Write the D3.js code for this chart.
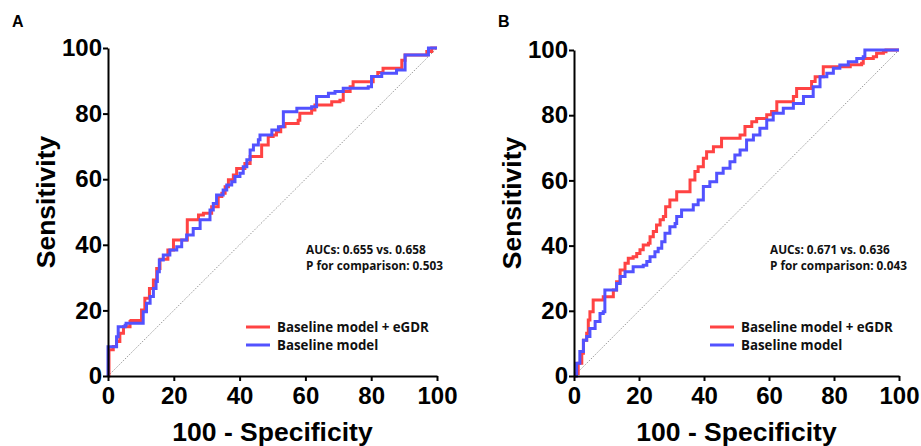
<!DOCTYPE html>
<html>
<head>
<meta charset="utf-8">
<script src="https://cdn.jsdelivr.net/npm/d3@7"></script>
<style>
  html, body { margin: 0; padding: 0; background: #fff; }
  svg { display: block; }
</style>
</head>
<body>
<svg id="chart" width="921" height="446"></svg>
<script>
// ---- Data (100 - Specificity, Sensitivity) ----
const ticks = [0, 20, 40, 60, 80, 100];
const seriesNames = ["Baseline model + eGDR", "Baseline model"];
const panelLabels = ["A", "B"];
const aucTexts = ["AUCs: 0.655 vs. 0.658", "AUCs: 0.671 vs. 0.636"];
const pTexts = ["P for comparison: 0.503", "P for comparison: 0.043"];

const redA = [[0,0],[0.3,8],[1.6,9],[2.6,10.5],[3.6,13],[4.7,15],[6.7,16.6],[7,16.9],[9.7,16.9],[10.2,20.1],[11.2,23.7],[12.6,26.7],[13.8,29.3],[14.8,32.8],[15.8,35.6],[17.8,35.6],[18.2,38.4],[19.9,41.5],[22.9,41.5],[24.1,47.6],[26.9,47.6],[27.5,49.1],[29,49.6],[31,49.6],[31.5,51.6],[33,51.6],[33.5,54.7],[34.6,55.7],[35.6,57.7],[36.6,59.8],[38.1,61.3],[39.1,63.3],[41.1,63.3],[41.6,64.8],[43.2,66.9],[46.2,66.9],[46.7,70.4],[48.2,70.4],[48.7,73],[50.2,73.5],[51.2,74.5],[52.5,76],[53.8,77],[57.8,78],[58.3,80.1],[61.9,81.1],[62.9,82.6],[67,82.6],[68,83.6],[70.5,84.1],[71.5,86.7],[73.6,88.2],[74.5,89.7],[79.6,89.7],[80.6,91.3],[82,92.5],[83.6,93.8],[87.7,93.8],[89.3,96.3],[90.3,97.9],[95.8,97.9],[96.9,98.9],[98.4,100],[100,100]];
const blueA = [[0,0],[0,8.9],[2.1,8.9],[2.6,12],[3.1,15],[5.2,15.5],[5.5,16.1],[10.2,16.1],[10.7,19.6],[11.7,22.2],[12.8,24.2],[13.8,26.7],[14.6,28.8],[15,31.8],[15.6,35.4],[16.8,36.9],[18.8,38.4],[20.9,39.4],[22.4,41.5],[23.9,43],[25.9,45],[28,47.6],[30.5,47.6],[31,50.6],[32,52.6],[33,55.2],[35,56.7],[36.1,58.2],[37.6,59.2],[38.6,60.8],[40.1,61.8],[41.1,63.8],[42.2,65.9],[43.2,68.9],[44.2,70.4],[45.7,72],[46.2,73.5],[49.2,73.5],[49.8,75],[51.8,76],[53.3,80.6],[57.4,81.6],[61.9,82.1],[63.4,85.2],[67,86.2],[69,86.7],[71.5,87.7],[79.1,88.2],[80.1,91.3],[83.2,92.3],[87.7,93.3],[90.3,97.9],[96.4,97.9],[97.4,100],[100,100]];
const redB = [[0,0],[0.5,0.8],[1.3,3.9],[2.4,7],[2.9,11],[3.9,13.1],[4.4,17.2],[4.9,19.7],[5.9,23.3],[8.5,23.3],[9,24.3],[11.6,24.3],[12.1,26.4],[13.1,28.9],[14.2,32.5],[15.7,34.6],[16.7,36.1],[18.2,36.6],[19.3,37.6],[20.3,38.7],[21.3,40.2],[22.9,40.7],[23.4,42.7],[24.4,44.3],[25.4,46.3],[26.5,47.9],[27.5,48.9],[28.2,51.9],[29.5,54],[31.6,56.5],[34.7,56.5],[35.7,60.1],[37.2,62.7],[38.2,64.2],[39.8,66.8],[40.8,68.8],[42.9,70.3],[45.4,72.9],[50.1,72.9],[51.1,73.9],[52.6,76.5],[54.7,78],[56.2,79],[59.3,80.1],[60.8,81.1],[62.4,84.1],[66.5,84.1],[67.5,85.7],[68.5,88.2],[72.1,88.2],[73.1,90.3],[74.2,91.8],[76.7,94.9],[82.9,94.9],[85,95.5],[88.5,95.9],[89,97.4],[92.1,97.9],[93.1,99],[95.2,99.5],[96,100],[100,100]];
const blueB = [[0,0],[0.8,3.9],[1.8,7.5],[2.9,11],[3.9,12.1],[4.9,14.6],[6.5,16.7],[8,19.2],[9,19.7],[9.5,26.4],[12.1,26.4],[13.1,28.4],[14.2,30.5],[15.7,32],[17.5,32],[18.2,33.5],[21.3,34],[22.4,35.1],[23.4,36.6],[24.9,38.1],[25.9,39.2],[27,41.2],[28,43.8],[29.5,45.8],[31.1,46.8],[31.6,48.9],[33.1,50.9],[35.7,50.9],[36.7,52.5],[38.2,54],[39.8,58.1],[41.8,59.6],[43.9,62.2],[45.9,63.7],[48,65.7],[49.5,67.8],[51.1,69.3],[53.1,72.4],[55.2,73.9],[57.2,76],[59.3,78.5],[61.3,80.6],[64.4,82.1],[67.5,83.6],[70.6,85.7],[73.6,88.7],[75.7,91.8],[77.8,92.9],[79.8,94.4],[81.8,95.4],[84.4,96.4],[87,97.4],[89,97.9],[89.5,100],[100,100]];

const colors = ["#ff4343", "#5252ff"];

// ---- Layout ----
const panels = [
  { label: panelLabels[0], red: redA, blue: blueA, auc: aucTexts[0], p: pTexts[0],
    x0: 108, x1: 437, y0: 376, y1: 48, labelX: 12, yTitleX: 55, annX: 306, legX: 246 },
  { label: panelLabels[1], red: redB, blue: blueB, auc: aucTexts[1], p: pTexts[1],
    x0: 574, x1: 899, y0: 376, y1: 50, labelX: 498, yTitleX: 521, annX: 770, legX: 710 }
];

const svg = d3.select("#chart");
const boldFont = "'Liberation Sans', Arial, sans-serif";
const textFont = "'Open Sans', 'Noto Sans', sans-serif";

panels.forEach(p => {
  const x = d3.scaleLinear().domain([0, 100]).range([p.x0, p.x1]);
  const y = d3.scaleLinear().domain([0, 100]).range([p.y0, p.y1]);
  const g = svg.append("g");

  // chance diagonal
  g.append("line")
    .attr("x1", x(0)).attr("y1", y(0)).attr("x2", x(100)).attr("y2", y(100))
    .attr("stroke", "#9a9a9a").attr("stroke-width", 1).attr("stroke-dasharray", "1.5,1.5");

  // ROC step curves
  const line = d3.line().x(d => x(d[0])).y(d => y(d[1])).curve(d3.curveStepAfter);
  [p.red, p.blue].forEach((data, i) => {
    g.append("path").datum(data)
      .attr("d", line)
      .attr("fill", "none")
      .attr("stroke", colors[i])
      .attr("stroke-width", 3)
      .attr("stroke-linejoin", "miter");
  });

  // axes
  const xAxis = d3.axisBottom(x).tickValues(ticks).tickSize(5).tickSizeOuter(0).tickPadding(6);
  const yAxis = d3.axisLeft(y).tickValues(ticks).tickSize(5).tickSizeOuter(0).tickPadding(1);
  const gx = g.append("g").attr("transform", `translate(0,${p.y0})`).call(xAxis);
  const gy = g.append("g").attr("transform", `translate(${p.x0},0)`).call(yAxis);
  [gx, gy].forEach(ax => {
    ax.select(".domain").attr("stroke", "#000").attr("stroke-width", 2);
    ax.selectAll(".tick line").attr("stroke", "#000").attr("stroke-width", 2);
    ax.selectAll(".tick text")
      .attr("fill", "#000")
      .style("font-family", boldFont)
      .style("font-weight", "bold")
      .style("font-size", "24px");
  });

  // axis titles
  g.append("text")
    .attr("x", (p.x0 + p.x1) / 2).attr("y", 441)
    .attr("text-anchor", "middle")
    .style("font-family", boldFont).style("font-weight", "bold").style("font-size", "26.5px")
    .text("100 - Specificity");
  g.append("text")
    .attr("transform", `translate(${p.yTitleX},${(p.y0 + p.y1) / 2 - 10}) rotate(-90)`)
    .attr("text-anchor", "middle")
    .style("font-family", boldFont).style("font-weight", "bold").style("font-size", "26.5px")
    .text("Sensitivity");

  // panel label
  g.append("text")
    .attr("x", p.labelX).attr("y", 27)
    .style("font-family", boldFont).style("font-weight", "bold").style("font-size", "16px")
    .text(p.label);

  // AUC annotation
  [p.auc, p.p].forEach((t, i) => {
    g.append("text")
      .attr("x", p.annX).attr("y", 254 + i * 16)
      .style("font-family", textFont).style("font-weight", 700).style("font-size", "11.8px")
      .attr("fill", "#111")
      .text(t);
  });

  // legend
  seriesNames.forEach((name, i) => {
    const ly = 327 + i * 18;
    g.append("line")
      .attr("x1", p.legX).attr("x2", p.legX + 24).attr("y1", ly).attr("y2", ly)
      .attr("stroke", colors[i]).attr("stroke-width", 3);
    g.append("text")
      .attr("x", p.legX + 31).attr("y", ly + 5)
      .style("font-family", textFont).style("font-weight", 700).style("font-size", "13.3px")
      .attr("fill", "#111")
      .text(name);
  });
});
</script>
</body>
</html>
